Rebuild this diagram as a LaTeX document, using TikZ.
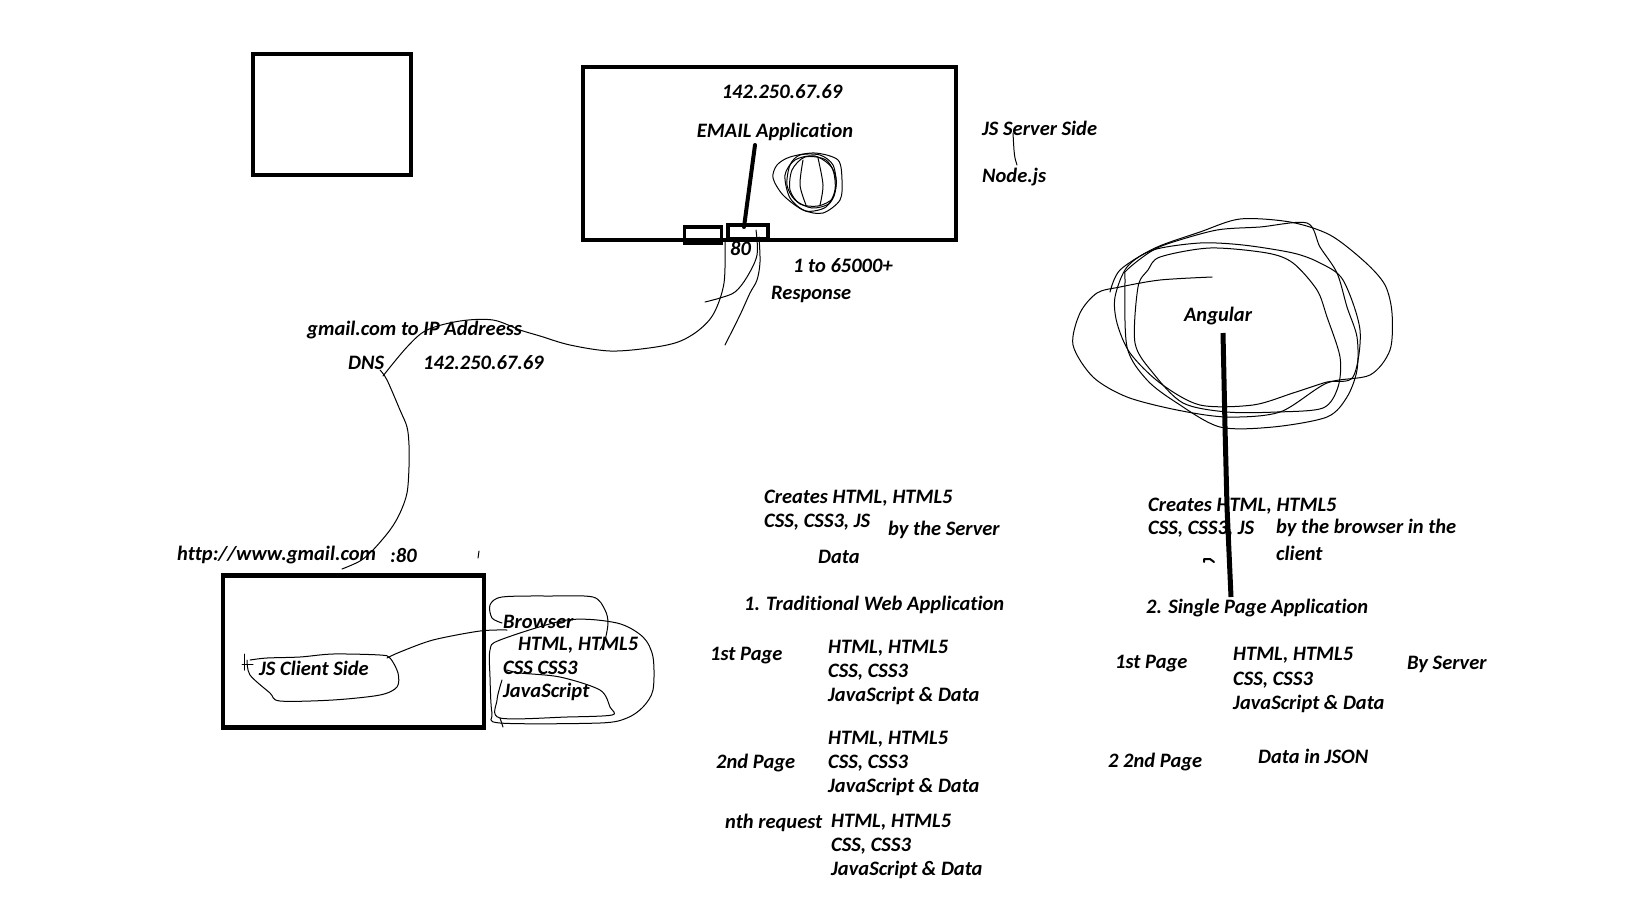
\documentclass[tikz,border=0pt]{standalone}
\usepackage{fontspec}
\setmainfont{Carlito}[Ligatures=NoCommon]
\begin{document}
\begin{tikzpicture}[x=1pt,y=-1pt,
  txt/.style={font=\fontsize{20.5}{24}\selectfont\bfseries\itshape, inner sep=0pt, anchor=west, text=black},
  ctxt/.style={txt, anchor=center},
  heavybox/.style={draw=black, line width=4.5pt, inner sep=0pt, fill=none},
  portbox/.style={draw=black, line width=3.5pt, inner sep=0pt},
  pen/.style={draw=black, line width=1pt, line join=round, line cap=round},
  marker/.style={draw=black, line width=4.5pt, line cap=round}]
\useasboundingbox[fill=white] (0,0) rectangle (1651,916);

% ---------- boxes ----------
\node[heavybox, minimum width=158pt, minimum height=121pt] (emptybox) at (332,114.5) {};
\node[heavybox, minimum width=373pt, minimum height=173pt] (server) at (769.5,153.5) {};
\node[portbox, minimum width=37pt, minimum height=16pt] (port1) at (703,235) {};
\node[portbox, minimum width=40pt, minimum height=14pt] (port2) at (748,232) {};
\node[heavybox, minimum width=261pt, minimum height=152pt] (client) at (353.5,651.5) {};

% ---------- texts top ----------
\node[ctxt] (ip1) at (782,92) {142.250.67.69};
\node[ctxt] (email) at (775,132) {EMAIL Application};
\node[txt] (jsserver) at (982,128) {JS Server Side};
\node[txt] (nodejs) at (982,177) {Node.js};
\node[txt] (p80) at (730,248) {80};
\node[txt] (range) at (793,266) {1 to 65000+};
\node[txt] (response) at (771,294) {Response};
\node[txt] (dnsnote) at (307,330) {gmail.com to IP Addreess};
\node[txt] (dns) at (348,363) {DNS};
\node[txt] (ip2) at (423,363) {142.250.67.69};
\node[txt] (url) at (177,555) {http://www.gmail.com};
\node[txt] (url80) at (390,555) {:80};

% ---------- client ----------
\node[txt] (jsclient) at (259,668) {JS Client Side};
\node[txt] (browser) at (503,622) {Browser};
\node[txt] (bhtml) at (518,645) {HTML, HTML5};
\node[txt] (bcss) at (503,668) {CSS CSS3};
\node[txt] (bjs) at (503,692) {JavaScript};

% ---------- traditional ----------
\node[txt] (tcreates) at (764,498) {Creates HTML, HTML5};
\node[txt] (tcss) at (764,522) {CSS, CSS3, JS};
\node[txt] (tby) at (888,530) {by the Server};
\node[txt] (tdata) at (818,557) {Data};
\node[txt] (ttitle) at (744,605) {1. Traditional Web Application};
\node[txt] (t1st) at (710,656) {1st Page};
\node[txt] (t1a) at (828,648) {HTML, HTML5};
\node[txt] (t1b) at (828,672) {CSS, CSS3};
\node[txt] (t1c) at (828,696) {JavaScript \& Data};
\node[txt] (t2nd) at (716,763) {2nd Page};
\node[txt] (t2a) at (828,739) {HTML, HTML5};
\node[txt] (t2b) at (828,763) {CSS, CSS3};
\node[txt] (t2c) at (828,787) {JavaScript \& Data};
\node[txt] (tnth) at (725,823) {nth request};
\node[txt] (t3a) at (831,822) {HTML, HTML5};
\node[txt] (t3b) at (831,846) {CSS, CSS3};
\node[txt] (t3c) at (831,870) {JavaScript \& Data};

% ---------- SPA ----------
\node[ctxt] (angular) at (1218,316) {Angular};
\node[txt] (screates) at (1148,506) {Creates HTML, HTML5};
\node[txt] (scss) at (1148,529) {CSS, CSS3, JS};
\node[txt] (sby) at (1276,528) {by the browser in the};
\node[txt] (sclient) at (1276,553) {client};
\node[txt] (stitle) at (1146,608) {2. Single Page Application};
\node[txt] (s1st) at (1115,664) {1st Page};
\node[txt] (s1a) at (1233,655) {HTML, HTML5};
\node[txt] (s1b) at (1233,680) {CSS, CSS3};
\node[txt] (s1c) at (1233,704) {JavaScript \& Data};
\node[txt] (sbyserver) at (1407,664) {By Server};
\node[txt] (s2nd) at (1108,762) {2 2nd Page};
\node[txt] (sjson) at (1258,756) {Data in JSON};

% ---------- connector end points ----------
\coordinate (emailtop) at (755,145);
\coordinate (port2top) at (744,227);
\coordinate (angtop) at (1223,333);
\coordinate (spabottom) at (1231,597);

% thick markers
\draw[line width=4pt, line cap=round] (emailtop) -- (port2top);
\draw[line width=5pt] (angtop) -- (1225,427) -- (1227,507) -- (spabottom);

% ---------- hand drawn connectors ----------
% port 1 to DNS
\draw[pen] plot[smooth, tension=0.55] coordinates {(725,242) (724,283) (714,313) (699,330) (678,342) (649,348) (610,351) (570,345) (540,336) (520,330) (493,320) (460,321) (427,330) (407,347) (383,376)};
% DNS down to url
\draw[pen] plot[smooth, tension=0.55] coordinates {(380,370) (387,380) (400,410) (407,427) (409,445) (409,467) (407,493) (400,513) (390,530) (373,550) (360,561) (342,569)};
% port 2 curves
\draw[pen] plot[smooth, tension=0.55] coordinates {(759,237) (760,262) (757,280) (750,293) (740,315) (725,345)};
\draw[pen] plot[smooth, tension=0.55] coordinates {(756,230) (757,255) (747,277) (735,292) (720,298) (705,302)};
% server side tick
\draw[pen] plot[smooth] coordinates {(1013,133) (1014,150) (1015,158) (1017,165)};
% tiny mark
\draw[pen] (479,551) -- (478,558);

% ---------- email scribble ----------
\draw[pen] plot[smooth cycle, tension=0.5] coordinates {(777,165) (773,178) (783,195) (803,210) (823,213) (840,200) (842,180) (838,160) (815,153) (790,157)};
\draw[pen] plot[smooth cycle, tension=0.5] coordinates {(790,165) (800,155) (820,155) (833,165) (836,185) (830,203) (812,208) (795,200) (787,185)};
\draw[pen] plot[smooth cycle, tension=0.5] coordinates {(792,170) (805,157) (826,160) (836,178) (833,198) (818,206) (800,204) (790,190)};
\draw[pen] plot[smooth cycle, tension=0.5] coordinates {(785,175) (795,160) (815,156) (832,168) (835,190) (826,207) (806,211) (790,198)};
\draw[pen] plot[smooth] coordinates {(803,160) (800,185) (806,205)};
\draw[pen] plot[smooth] coordinates {(818,158) (823,185) (820,205)};

% ---------- client scribbles ----------
\draw[pen] (244,654) -- (244,670);
\draw[pen] (242,664) -- (253,664);
\draw[pen] plot[smooth, tension=0.5] coordinates {(247,660) (250,675) (270,693) (280,701) (333,700) (380,695) (397,687) (398,673) (390,658) (380,655) (333,654) (300,657) (267,658) (250,660)};
\draw[pen] plot[smooth, tension=0.5] coordinates {(387,658) (400,652) (433,640) (480,631) (507,630)};
% browser loops
\draw[pen] plot[smooth, tension=0.5] coordinates {(502,623) (492,618) (490,605) (502,597) (550,596) (593,597) (605,610) (608,623) (605,640) (600,650)};
\draw[pen] plot[smooth cycle, tension=0.5] coordinates {(500,640) (567,620) (617,623) (643,637) (653,657) (653,690) (643,707) (627,718) (600,723) (500,723) (492,713) (490,677) (490,650)};
\draw[pen] plot[smooth, tension=0.5] coordinates {(507,670) (520,673) (560,677) (600,690) (610,707) (612,715) (567,717) (500,718) (497,700) (502,680)};
\draw[pen] (500,718) -- (503,727);

% ---------- angular scribbles ----------
\draw[pen] plot[smooth, tension=0.5] coordinates {(1212,277) (1160,280) (1120,287) (1097,293) (1080,313) (1073,345) (1093,377) (1127,397) (1177,410) (1227,417) (1280,412) (1327,383) (1370,375) (1390,350) (1392,313) (1385,285) (1365,262) (1330,235) (1290,222) (1240,219) (1200,232) (1155,248) (1120,270) (1110,292)};
\draw[pen] plot[smooth cycle, tension=0.5] coordinates {(1115,297) (1117,323) (1130,353) (1160,383) (1200,405) (1253,405) (1293,393) (1327,382) (1353,377) (1360,330) (1343,280) (1320,263) (1293,253) (1243,245) (1200,243) (1153,250) (1127,267)};
\draw[pen] plot[smooth cycle, tension=0.5] coordinates {(1138,287) (1135,343) (1153,373) (1183,403) (1227,412) (1277,412) (1323,408) (1338,387) (1340,357) (1327,317) (1317,290) (1293,263) (1267,253) (1210,248) (1160,257) (1148,270)};
\draw[pen] plot[smooth cycle, tension=0.5] coordinates {(1125,280) (1127,347) (1147,380) (1177,403) (1220,427) (1273,427) (1327,417) (1347,397) (1357,370) (1357,337) (1347,307) (1337,273) (1320,247) (1307,223) (1260,227) (1217,230) (1170,243) (1150,252) (1127,270)};
% cut glyph fragment
\draw[pen, line width=2pt] (1204,562) -- (1204,559) -- (1210,559) -- (1214,562);
\end{tikzpicture}
\end{document}
